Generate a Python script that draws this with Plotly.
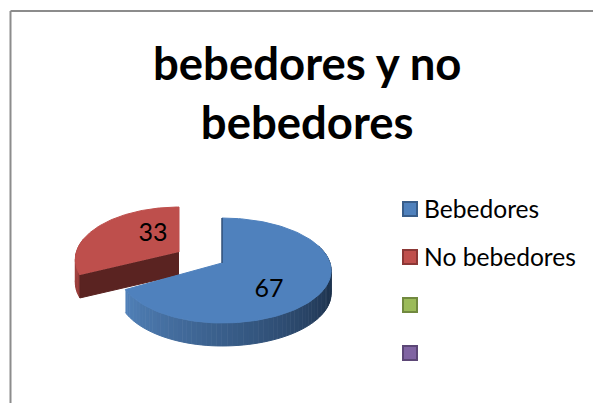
"""3D-look exploded pie drawn on a pixel-sized cartesian axis; plotly has no tilted pie."""

import math

import plotly.graph_objects as go

TITLE = "bebedores y no<br>bebedores"
CATEGORIES = ["Bebedores", "No bebedores", "", ""]
VALUES = [67, 33]

WIDTH = 593
HEIGHT = 403
FONT = "Lato, Carlito, sans-serif"

BLUE = "#4F81BD"
RED = "#BE4F4C"
RED_CUT = "#5A2321"
BLUE_WALL = ((0.0, (82, 130, 186)), (0.45, (52, 86, 127)), (0.8, (28, 48, 74)), (1.0, (38, 64, 95)))
RED_WALL = ((0.0, (150, 58, 55)), (1.0, (170, 74, 70)))
KEY_FILL = ["#4F81BD", "#C0504D", "#9BBB59", "#8064A2"]
KEY_EDGE = ["#385D8A", "#8C3836", "#71893F", "#5C4776"]
FRAME = "#8C8C8C"

# Ellipse projection of the pie, in pixels.
CENTER = (222, 263)
EXPLODE = (-43, -11)
RX = 108
RY = 51.4
LEFT_SCALE = 0.95  # the source's camera squeezes the left half a little
PERSPECTIVE = 0.143
DEPTH = 23
RED_CUT_TRIM = 4  # degrees, the exploded slice's cut edge reads slightly flatter

LABEL_POS = [(269, 291), (153, 235)]
KEY_X = 410
KEY_TEXT_X = 423
KEY_Y0 = 209
KEY_PITCH = 48


def project(deg, center):
    t = math.radians(deg)
    w = 1 + PERSPECTIVE * math.sin(t)
    dx = RX * math.cos(t) / w
    if dx < 0:
        dx *= LEFT_SCALE
    return center[0] + dx, center[1] - RY * math.sin(t) / w


def arc(start, end, center, steps=120):
    pts = [project(start + (end - start) * i / steps, center) for i in range(steps + 1)]
    return [p[0] for p in pts], [p[1] for p in pts]


def ramp(stops, f):
    for (f0, c0), (f1, c1) in zip(stops, stops[1:]):
        if f <= f1:
            u = (f - f0) / (f1 - f0)
            return "rgb(%d,%d,%d)" % tuple(a + (b - a) * u for a, b in zip(c0, c1))
    return "rgb(%d,%d,%d)" % stops[-1][1]


def polygon(fig, xs, ys, color):
    fig.add_scatter(
        x=xs,
        y=ys,
        mode="lines",
        fill="toself",
        fillcolor=color,
        line=dict(color=color, width=1),
        hoverinfo="skip",
        showlegend=False,
    )


def wall(fig, start, end, center, stops, segments):
    for i in range(segments):
        a = start + (end - start) * i / segments
        b = start + (end - start) * (i + 1) / segments
        xs, ys = arc(a, b, center, steps=4)
        polygon(
            fig,
            xs + xs[::-1],
            ys + [y + DEPTH for y in ys[::-1]],
            ramp(stops, (i + 0.5) / segments),
        )


total = sum(VALUES)
split = 90 - 360 * VALUES[0] / total  # clockwise from 12 o'clock
red_center = (CENTER[0] + EXPLODE[0], CENTER[1] + EXPLODE[1])

fig = go.Figure()

# Red slice first, it sits behind the blue one.
red_start = split + 360 - RED_CUT_TRIM
wall(fig, red_start, 165, red_center, RED_WALL, 14)
cx, cy = project(red_start, red_center)
polygon(
    fig,
    [red_center[0], cx, cx, red_center[0]],
    [red_center[1], cy, cy + DEPTH, red_center[1] + DEPTH],
    RED_CUT,
)
xs, ys = arc(red_start, 90, red_center)
polygon(fig, xs + [red_center[0]], ys + [red_center[1]], RED)

# Blue slice.
wall(fig, split, 20, CENTER, BLUE_WALL, 70)
xs, ys = arc(90, split, CENTER)
polygon(fig, xs + [CENTER[0]], ys + [CENTER[1]], BLUE)
top_x, top_y = project(90, CENTER)
fig.add_scatter(
    x=[top_x, CENTER[0]],
    y=[top_y, CENTER[1]],
    mode="lines",
    line=dict(color="#2F4F78", width=1.5),
    hoverinfo="skip",
    showlegend=False,
)

# Data labels.
fig.add_scatter(
    x=[p[0] for p in LABEL_POS],
    y=[p[1] for p in LABEL_POS],
    mode="text",
    text=[str(v) for v in VALUES],
    textposition="middle center",
    textfont=dict(family=FONT, size=25, color="#000000"),
    hoverinfo="skip",
    showlegend=False,
)

# Legend column, two of the four entries have no label in the source.
fig.add_scatter(
    x=[KEY_X] * len(CATEGORIES),
    y=[KEY_Y0 + i * KEY_PITCH for i in range(len(CATEGORIES))],
    mode="markers",
    marker=dict(symbol="square", size=14, color=KEY_FILL, line=dict(color=KEY_EDGE, width=2)),
    hoverinfo="skip",
    showlegend=False,
)
annotations = [
    dict(
        x=KEY_TEXT_X,
        y=KEY_Y0 + i * KEY_PITCH,
        xref="x",
        yref="y",
        text=label,
        showarrow=False,
        xanchor="left",
        yanchor="middle",
        xshift=-1,
        yshift=1,
        font=dict(family=FONT, size=24.6, color="#000000"),
    )
    for i, label in enumerate(CATEGORIES)
    if label
]
annotations.append(
    dict(
        x=307,
        y=92,
        xref="x",
        yref="y",
        text=TITLE,
        showarrow=False,
        xanchor="center",
        yanchor="middle",
        font=dict(family=FONT, size=45.5, color="#000000", weight="bold"),
    )
)

fig.update_layout(
    width=WIDTH,
    height=HEIGHT,
    margin=dict(l=0, r=0, t=0, b=0),
    paper_bgcolor="#FFFFFF",
    plot_bgcolor="#FFFFFF",
    font=dict(family=FONT, color="#000000"),
    annotations=annotations,
    shapes=[
        dict(type="line", xref="x", yref="y", x0=10.5, y0=11, x1=WIDTH, y1=11, line=dict(color=FRAME, width=2)),
        dict(type="line", xref="x", yref="y", x0=10.5, y0=11, x1=10.5, y1=HEIGHT, line=dict(color=FRAME, width=2)),
    ],
)
fig.update_xaxes(range=[0, WIDTH], visible=False)
fig.update_yaxes(range=[HEIGHT, 0], visible=False)

fig.write_html(
    "out.html",
    config=dict(displayModeBar=False),
    post_script="document.body.style.margin = '0';",
)
